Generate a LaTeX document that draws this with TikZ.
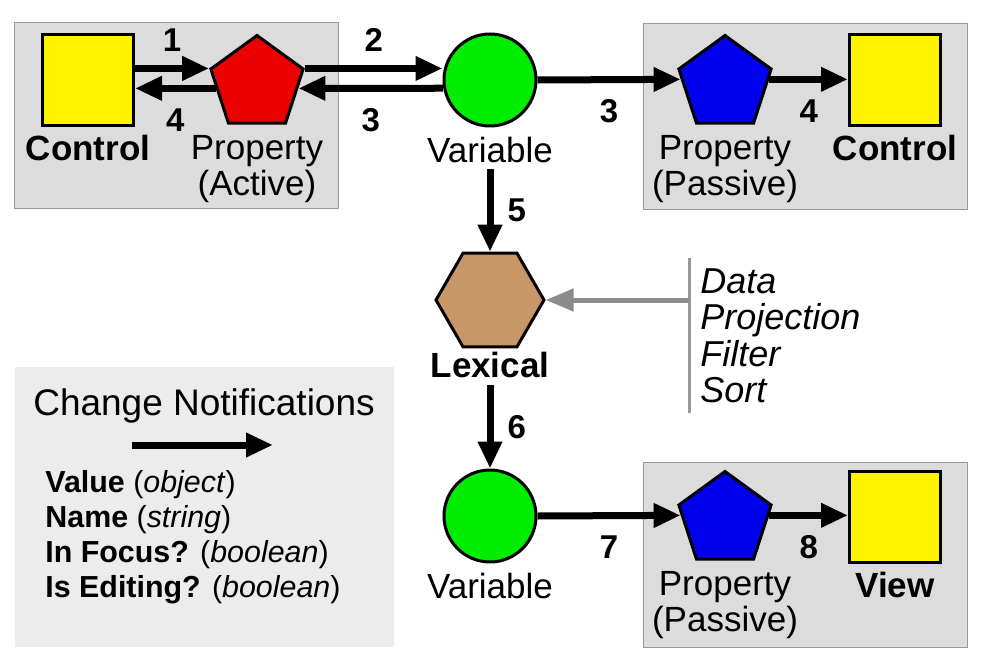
\documentclass[tikz,border=0pt]{standalone}
\usepackage{fontspec}
\setmainfont{Liberation Sans}
\usetikzlibrary{positioning,arrows.meta,shapes.geometric}

\definecolor{boxgray}{RGB}{220,220,220}
\definecolor{legendgray}{RGB}{236,236,236}
\definecolor{lexbrown}{RGB}{201,150,104}
\definecolor{propred}{RGB}{236,0,0}
\definecolor{vargreen}{RGB}{0,236,0}
\definecolor{propblue}{RGB}{0,0,236}

\begin{document}
\begin{tikzpicture}[x=0.5pt, y=-0.5pt, every node/.style={font=\fontsize{17.5}{18}\selectfont},
	item/.style={draw, line width=1.5pt, inner sep=0},
	ctrlbox/.style={item, rectangle, fill=yellow, minimum size=45.5pt},
	propshape/.style={item, regular polygon, regular polygon sides=5, minimum size=48.5pt},
	varnode/.style={item, circle, fill=vargreen, minimum size=46pt},
	lexshape/.style={item, regular polygon, regular polygon sides=6, fill=lexbrown, minimum size=54pt},
	caption/.style={inner sep=0, align=center},
	strong/.style={caption, font=\fontsize{17.5}{18}\selectfont\bfseries},
	num/.style={inner sep=0, font=\fontsize{16.5}{16.5}\selectfont\bfseries},
	flow/.style={line width=3.5pt, -{Triangle[length=13.5pt,width=11.5pt]}},
	feed/.style={line width=2.5pt, draw=black!45, -{Triangle[length=14pt,width=11pt]}},
	barline/.style={line width=1.5pt, draw=black!40},
	panel/.style={fill=boxgray, draw=black!40, line width=0.5pt},
]
\useasboundingbox (0,0) rectangle (988,662);

\path[panel] (14,23) rectangle (338,209);
\path[panel] (643,24) rectangle (967,210);
\path[panel] (643,462) rectangle (967,647);
\fill[legendgray] (15,367) rectangle (394,647);

\node[ctrlbox] (ctrlA) at (88,80) {};
\node[propshape, fill=propred] (propA) at (257,84) {};
\node[varnode] (varA) at (490,80) {};
\node[propshape, fill=propblue] (propB) at (725,84) {};
\node[ctrlbox] (ctrlB) at (895,80) {};
\node[lexshape] (lex) at (490,300) {};
\node[varnode] (varB) at (490,516) {};
\node[propshape, fill=propblue] (propC) at (725,520) {};
\node[ctrlbox] (view) at (895,517) {};

\node[strong, below=3.75pt of ctrlA] (ctrlAtxt) {Control};
\node[caption, below=4.9pt of propA] (propAtxt) {Property\\(Active)};
\node[caption, below=4.5pt of varA] (varAtxt) {Variable};
\node[caption, below=4.9pt of propB] (propBtxt) {Property\\(Passive)};
\node[strong, below=3.75pt of ctrlB] (ctrlBtxt) {Control};
\node[strong, below=1.6pt of lex] (lexTxt) {Lexical};
\node[caption, below=4.5pt of varB] (varBtxt) {Variable};
\node[caption, below=4.9pt of propC] (propCtxt) {Property\\(Passive)};
\node[strong, below=3.75pt of view] (viewTxt) {View};

\draw[flow] (ctrlA.east |- propA.corner 2) -- node[num, above=6.5pt] {1} (propA.corner 2);
\draw[flow] (propA.186) -- node[num, below=8.25pt] {4} (propA.186 -| ctrlA.east);
\draw[flow] (propA.corner 5) -- node[num, above=6.5pt] {2} (propA.corner 5 -| varA.west);
\draw[flow] (varA.190) -- node[num, below=8.25pt] {3} (propA.-6);
\draw[flow] (varA.east) -- node[num, below=8.25pt] {3} (propB.174);
\draw[flow] (propB.6) -- node[num, below=8.25pt] {4} (propB.6 -| ctrlB.west);
\draw[flow] ([yshift=-3pt]varAtxt.south) -- node[num, right=7pt] {5} (lex.north);
\draw[flow] ([yshift=-3.5pt]lexTxt.south) -- node[num, right=7pt] {6} (varB.north);
\draw[flow] (varB.east) -- node[num, below=8.25pt] {7} (propC.174);
\draw[flow] (propC.6) -- node[num, below=8.25pt] {8} (propC.6 -| view.west);

\coordinate (barTop) at (689,258);
\coordinate (barBot) at (689,413);
\draw[barline] (barTop) -- (barBot);
\draw[feed] (barTop |- lex.east) -- (lex.east);
\node[anchor=north west, inner sep=0, align=left, font=\fontsize{18}{18.3}\selectfont\itshape] (opts) at (700,268)
	{Data\\Projection\\Filter\\Sort};

\node[anchor=base, inner sep=0, font=\fontsize{18.5}{20}\selectfont] (lgdTitle) at (204,415) {Change Notifications};
\coordinate (lgdStart) at (132,445);
\coordinate (lgdEnd) at (273,445);
\draw[flow] (lgdStart) -- (lgdEnd);
\node[anchor=north west, inner sep=0, align=left, font=\fontsize{15.2}{17.5}\selectfont] (lgdItems) at (45,470)
	{\textbf{Value} (\textit{object})\\\textbf{Name} (\textit{string})\\\textbf{In Focus?} (\textit{boolean})\\\textbf{Is Editing?} (\textit{boolean})};
\end{tikzpicture}
\end{document}
